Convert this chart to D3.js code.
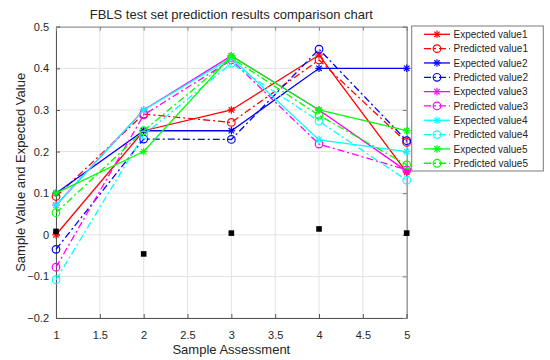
<!DOCTYPE html>
<html><head><meta charset="utf-8">
<script src="https://cdn.jsdelivr.net/npm/d3@7"></script>
<style>body{margin:0;background:#fff} text{font-family:Arial,"Liberation Sans",sans-serif;fill:#262626}</style>
</head><body><svg id="c" width="550" height="360"></svg>
<script>
const samples=[1,2,3,4,5];
const expected1=[0.00,0.25,0.30,0.432,0.15];
const predicted1=[0.092,0.29,0.27,0.42,0.222];
const expected2=[0.10,0.25,0.25,0.40,0.40];
const predicted2=[-0.035,0.23,0.229,0.446,0.226];
const expected3=[0.071,0.30,0.43,0.30,0.153];
const predicted3=[-0.078,0.288,0.42,0.218,0.156];
const expected4=[0.071,0.30,0.425,0.228,0.20];
const predicted4=[-0.108,0.24,0.412,0.273,0.131];
const expected5=[0.10,0.20,0.43,0.30,0.25];
const predicted5=[0.053,0.25,0.425,0.287,0.168];
const errors=[0.008,-0.046,0.004,0.014,0.004];
const seriesNames=["Expected value1","Predicted value1","Expected value2","Predicted value2","Expected value3","Predicted value3","Expected value4","Predicted value4","Expected value5","Predicted value5"];
const seriesValues=[expected1,predicted1,expected2,predicted2,expected3,predicted3,expected4,predicted4,expected5,predicted5];
const seriesColors=["#ff0000","#ff0000","#0000ff","#0000ff","#ff00ff","#ff00ff","#00ffff","#00ffff","#00ff00","#00ff00"];
const xTicks=[1,1.5,2,2.5,3,3.5,4,4.5,5];
const yTicks=[-0.2,-0.1,0,0.1,0.2,0.3,0.4,0.5];
const titleText="FBLS test set prediction results comparison chart";
const xLabel="Sample Assessment", yLabel="Sample Value and Expected Value";

const svg=d3.select("#c");
const L=56,R=406.7,T=26.7,B=318;
const x=d3.scaleLinear().domain([1,5]).range([L,R]);
const y=d3.scaleLinear().domain([-0.2,0.5]).range([B,T]);

// grid
const g=svg.append("g");
g.selectAll(".gx").data(xTicks).join("line").attr("x1",d=>x(d)).attr("x2",d=>x(d)).attr("y1",T).attr("y2",B).attr("stroke","#e3e3e3").attr("stroke-width",1);
g.selectAll(".gy").data(yTicks).join("line").attr("y1",d=>y(d)).attr("y2",d=>y(d)).attr("x1",L).attr("x2",R).attr("stroke","#e3e3e3").attr("stroke-width",1);

// axes
const xAxis=d3.axisBottom(x).tickValues(xTicks).tickSize(-4).tickPadding(13).tickFormat(d3.format("~g"));
const ax=svg.append("g").attr("transform",`translate(0,${B})`).call(xAxis);
const yAxis=d3.axisLeft(y).tickValues(yTicks).tickSize(-4).tickPadding(7).tickFormat(d3.format("~g"));
const ay=svg.append("g").attr("transform",`translate(${L},0)`).call(yAxis);
const yAxisR=d3.axisRight(y).tickValues(yTicks).tickSize(-4).tickFormat("");
const ayr=svg.append("g").attr("transform",`translate(${R},0)`).call(yAxisR);
const xAxisT=d3.axisTop(x).tickValues(xTicks).tickSize(-4).tickFormat("");
const axt=svg.append("g").attr("transform",`translate(0,${T})`).call(xAxisT);
[ax,ay,ayr,axt].forEach(a=>{a.selectAll("path").attr("stroke","#555").attr("stroke-width",1);a.selectAll("line").attr("stroke","#555");a.selectAll("text").style("font-size","11px").attr("fill","#262626");});
axt.selectAll("path,line").attr("stroke","#888");
ayr.selectAll("path,line").attr("stroke","#777");

// series
const line=d3.line().x((d,i)=>x(samples[i])).y(d=>y(d));
function star(sel,cx,cy,c){const r=3.8,r2=2.7;const gg=sel.append("g").attr("stroke",c).attr("stroke-width",1.2);
 gg.append("line").attr("x1",cx-r).attr("x2",cx+r).attr("y1",cy).attr("y2",cy);
 gg.append("line").attr("x1",cx).attr("x2",cx).attr("y1",cy-r).attr("y2",cy+r);
 gg.append("line").attr("x1",cx-r2).attr("x2",cx+r2).attr("y1",cy-r2).attr("y2",cy+r2);
 gg.append("line").attr("x1",cx-r2).attr("x2",cx+r2).attr("y1",cy+r2).attr("y2",cy-r2);}
function circ(sel,cx,cy,c){sel.append("circle").attr("cx",cx).attr("cy",cy).attr("r",3.8).attr("fill","none").attr("stroke",c).attr("stroke-width",1.2);}
const sg=svg.append("g");
seriesValues.forEach((vals,k)=>{
  const pred=k%2===1;
  sg.append("path").datum(vals).attr("d",line).attr("fill","none").attr("stroke",seriesColors[k]).attr("stroke-width",1.3).attr("stroke-dasharray",pred?"7,3,2,3":null);
  vals.forEach((v,i)=>{pred?circ(sg,x(samples[i]),y(v),seriesColors[k]):star(sg,x(samples[i]),y(v),seriesColors[k]);});
});
sg.selectAll(".err").data(errors).join("rect").attr("x",(d,i)=>x(samples[i])-2.8).attr("y",d=>y(d)-2.8).attr("width",5.6).attr("height",5.6).attr("fill","#000");

// title and labels
svg.append("text").attr("x",(L+R)/2).attr("y",19).attr("text-anchor","middle").style("font-size","13px").text(titleText);
svg.append("text").attr("x",(L+R)/2).attr("y",354).attr("text-anchor","middle").style("font-size","13px").text(xLabel);
svg.append("text").attr("transform",`translate(25,${(T+B)/2}) rotate(-90)`).attr("text-anchor","middle").style("font-size","13px").text(yLabel);

// legend
const lg=svg.append("g");
lg.append("rect").attr("x",411.7).attr("y",26).attr("width",131.6).attr("height",145).attr("fill","#fff").attr("stroke","#7a7a7a").attr("stroke-width",1);
seriesNames.forEach((n,k)=>{
  const yy=34.3+k*14.33, pred=k%2===1, c=seriesColors[k];
  lg.append("line").attr("x1",424).attr("x2",450).attr("y1",yy).attr("y2",yy).attr("stroke",c).attr("stroke-width",1.3).attr("stroke-dasharray",pred?"7,3,2,3":null);
  pred?circ(lg,437,yy,c):star(lg,437,yy,c);
  lg.append("text").attr("x",453.5).attr("y",yy+3.6).style("font-size","10px").text(n);
});
</script></body></html>
